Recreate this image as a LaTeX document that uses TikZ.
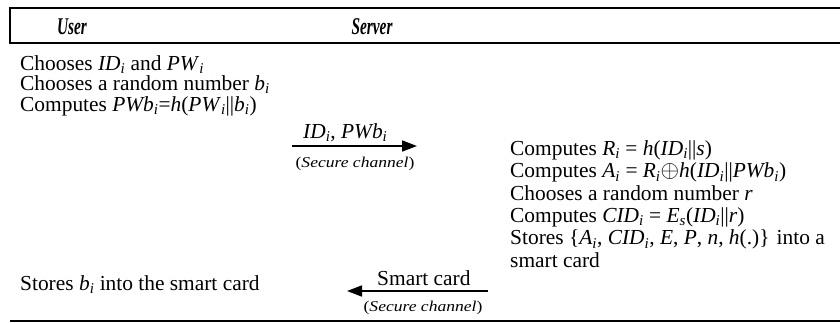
\documentclass[tikz,border=0pt]{standalone}
\usepackage{fontspec}
\setmainfont{Liberation Serif}
\usepackage{graphicx}
\usetikzlibrary{arrows.meta}
\newcommand{\iv}[2]{\textit{#1}\textsubscript{\textit{#2}}}
\newcommand{\hdr}[1]{\scalebox{0.64}[1]{\fontsize{24}{26}\selectfont\bfseries\itshape #1}}
\newcommand{\chan}{\scalebox{1.17}[1]{\fontsize{15}{16}\selectfont(\textit{Secure channel})}}
\begin{document}
\begin{tikzpicture}[x=1pt,y=-1pt,
  txt/.style={anchor=base west, inner sep=0pt, font=\fontsize{21.4}{22}\selectfont},
  ublock/.style={txt, align=left, font=\fontsize{21.4}{20.5}\selectfont},
  sblock/.style={txt, align=left, font=\fontsize{21.4}{22.35}\selectfont},
  hd/.style={anchor=base, inner sep=0pt},
  ch/.style={anchor=base, inner sep=0pt},
  rule/.style={line width=1.3pt},
  msg/.style={line width=1.7pt, -{Triangle[length=15pt,width=11pt]}}]
\useasboundingbox (0,0) rectangle (840,322);
% header box
\draw[rule] (840,8) -- (10,8) -- (10,43) -- (840,43);
\node[hd] (huser) at (72,34) {\hdr{User}};
\node[hd] (hserver) at (372,34) {\hdr{Server}};
% user side (base anchor = baseline of last line)
\node[ublock] (ucalc) at (20,111) {Chooses \iv{ID}{i} and \iv{PW}{i}\\
  Chooses a random number \iv{b}{i}\\
  Computes \iv{PWb}{i}=\textit{h}(\iv{PW}{i}||\iv{b}{i})};
\node[txt] (ustore) at (20,290.5) {Stores \iv{b}{i} into the smart card};
% server side (base anchor = baseline of last line)
\node[sblock] (scalc) at (510,267.3) {Computes \iv{R}{i} = \textit{h}(\iv{ID}{i}||\textit{s})\\
  Computes \iv{A}{i} = \iv{R}{i}\scalebox{1.15}{$\oplus$}\textit{h}(\iv{ID}{i}||\iv{PWb}{i})\\
  Chooses a random number \textit{r}\\
  Computes \iv{CID}{i} = \iv{E}{s}(\iv{ID}{i}||\textit{r})\\
  Stores \{\iv{A}{i}, \iv{CID}{i}, \textit{E}, \textit{P}, \textit{n}, \textit{h}(.)\} into a\\
  smart card};
% message 1
\coordinate (m1a) at (292,146);
\coordinate (m1b) at (417,146);
\draw[msg] (m1a) -- (m1b);
\node[txt] (m1l) at (303,138) {\iv{ID}{i}, \iv{PWb}{i}};
\node[ch] (m1c) at (355,167) {\chan};
% message 2
\coordinate (m2a) at (488,291);
\coordinate (m2b) at (347,291);
\draw[msg] (m2a) -- (m2b);
\node[txt] (m2l) at (377,285) {Smart card};
\node[ch] (m2c) at (423,311) {\chan};
% bottom rule
\draw[rule] (10,321) -- (840,321);
\end{tikzpicture}
\end{document}
